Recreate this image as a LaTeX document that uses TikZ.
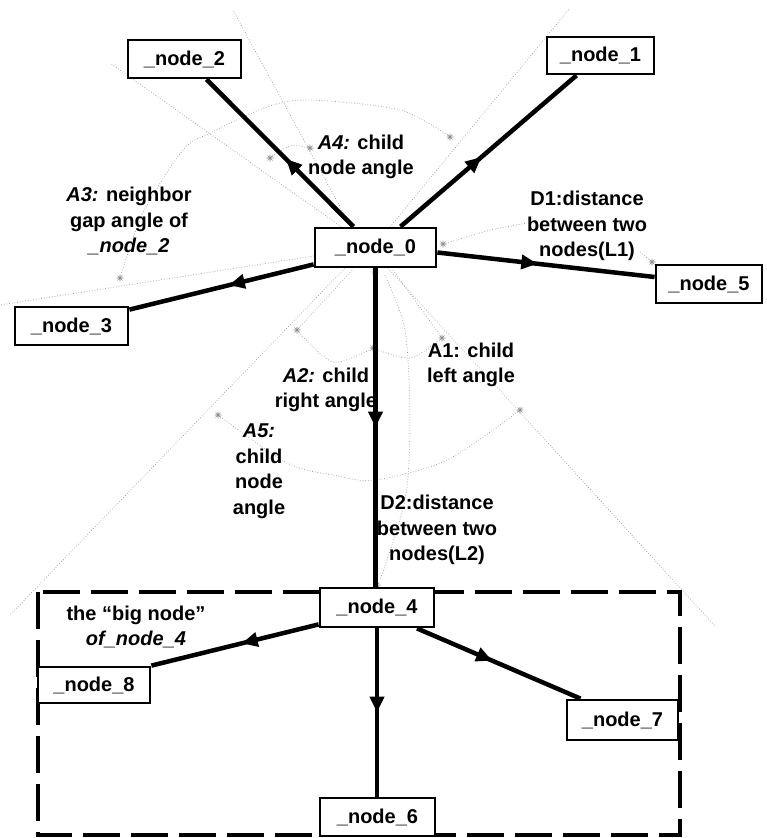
\documentclass[tikz,border=0pt]{standalone}
\usepackage{fontspec}
\setmainfont{Liberation Sans}
\usetikzlibrary{arrows.meta,decorations.markings}
\begin{document}
\begin{tikzpicture}[x=1pt,y=-1pt,
  nbox/.style={draw,line width=2.8pt,fill=white,minimum width=112pt,minimum height=38pt,inner sep=0pt,font=\fontsize{20}{24}\selectfont\bfseries},
  conn/.style={line width=4.5pt,postaction={decorate},decoration={markings,mark=at position #1 with {\arrow{Triangle[length=16pt,width=14pt]}}}},
  conn/.default=0.46,
  lbl/.style={align=center,inner sep=0pt,font=\fontsize{20}{25.5}\selectfont\bfseries},
  guide/.style={black!40,dotted,line width=0.7pt},
  mk/.pic={\draw[black!45,line width=0.6pt] (-3.5,0)--(3.5,0) (0,-3.5)--(0,3.5) (-2.5,-2.5)--(2.5,2.5) (-2.5,2.5)--(2.5,-2.5);}
  ]
\useasboundingbox (0,0) rectangle (766,838);

% construction (dotted) lines
\draw[guide] (350,225) -- (233,10);
\draw[guide] (350,233) -- (110,63);
\draw[guide] (390,227) -- (570,8);
\draw[guide] (314,256) -- (0,305);
\draw[guide] plot[smooth] coordinates {(120,278) (143,213) (183,150) (210,133) (267,107) (310,100) (400,110) (450,137)};
\draw[guide] plot[smooth] coordinates {(270,158) (290,146) (310,148)};
\draw[guide] (443,244) -- (490,230) -- (527,223);
\draw[guide] (640,252) -- (652,262);
\draw[guide] (345,268) -- (10,615);
\draw[guide] (388,268) -- (715,626);
\draw[guide] (352,270) -- (297,330);
\draw[guide] plot[smooth] coordinates {(297,330) (333,362) (373,348)};
\draw[guide] (393,270) -- (442,338);
\draw[guide] plot[smooth] coordinates {(373,348) (410,358) (442,338)};
\draw[guide] plot[smooth] coordinates {(218,415) (287,463) (333,475) (375,480) (447,460) (520,410)};
\draw[guide] plot[smooth] coordinates {(385,275) (405,330) (410,420) (405,500) (380,580)};

\foreach \p in {(120,278),(270,158),(310,148),(450,137),(443,244),(652,262),(375,272),(297,330),(373,348),(442,338),(520,410),(218,415),(377,585)}
  \pic at \p {mk};

% dashed "big node" box
\draw[line width=3.2pt,dash pattern=on 37pt off 11pt] (38,592) rectangle (680,835);

% nodes
\node[nbox,minimum width=113pt] (n2) at (184.5,59) {\_node\_2};
\node[nbox,minimum width=107pt,minimum height=37pt] (n1) at (600.5,55.5) {\_node\_1};
\node[nbox,minimum width=121pt,minimum height=39pt] (n0) at (375.5,247.5) {\_node\_0};
\node[nbox,minimum width=106pt] (n5) at (709,284) {\_node\_5};
\node[nbox,minimum width=113pt] (n3) at (71.5,326) {\_node\_3};
\node[nbox,minimum width=114pt,minimum height=39pt] (n4) at (377,607.5) {\_node\_4};
\node[nbox,minimum width=112pt,minimum height=36pt] (n8) at (94,685) {\_node\_8};
\node[nbox,minimum width=111pt,minimum height=40pt] (n7) at (622.5,720) {\_node\_7};
\node[nbox,minimum width=115pt,minimum height=38pt] (n6) at (377.5,817) {\_node\_6};

% connectors
\draw[conn] ([xshift=-22pt]n0.north) -- ([xshift=22pt]n2.south);
\draw[conn] ([xshift=25pt]n0.north) -- ([xshift=-24pt]n1.south);
\draw[conn] ([yshift=-5pt]n0.east) -- ([yshift=7pt]n5.west);
\draw[conn] ([yshift=4pt]n0.south west) -- ([yshift=-4pt]n3.north east);
\draw[conn=0.5] (n0.south) -- (n0.south |- n4.north);
\draw[conn] ([yshift=4pt]n4.south west) -- (n8.north east);
\draw[conn] ([xshift=40pt]n4.south) -- ([xshift=-42pt]n7.north);
\draw[conn=0.5] (n4.south) -- (n4.south |- n6.north);

% labels
\node[lbl] (la4) at (361,157) {\textit{A4:} child\\node angle};
\node[lbl] (la3) at (129,221) {\textit{A3:} neighbor\\gap angle of\\\textit{\_node\_2}};
\node[lbl] (ld1) at (587,226) {D1:distance\\between two\\nodes(L1)};
\node[lbl] (la1) at (471,365) {A1: child\\left angle};
\node[lbl] (la2) at (326,390) {\textit{A2:} child\\right angle};
\node[lbl] (la5) at (259,471) {\textit{A5:}\\child\\node\\angle};
\node[lbl] (ld2) at (437,530) {D2:distance\\between two\\nodes(L2)};
\node[lbl] (lbig) at (136,627) {the ``big node''\\\textit{of\_node\_4}};
\end{tikzpicture}
\end{document}
